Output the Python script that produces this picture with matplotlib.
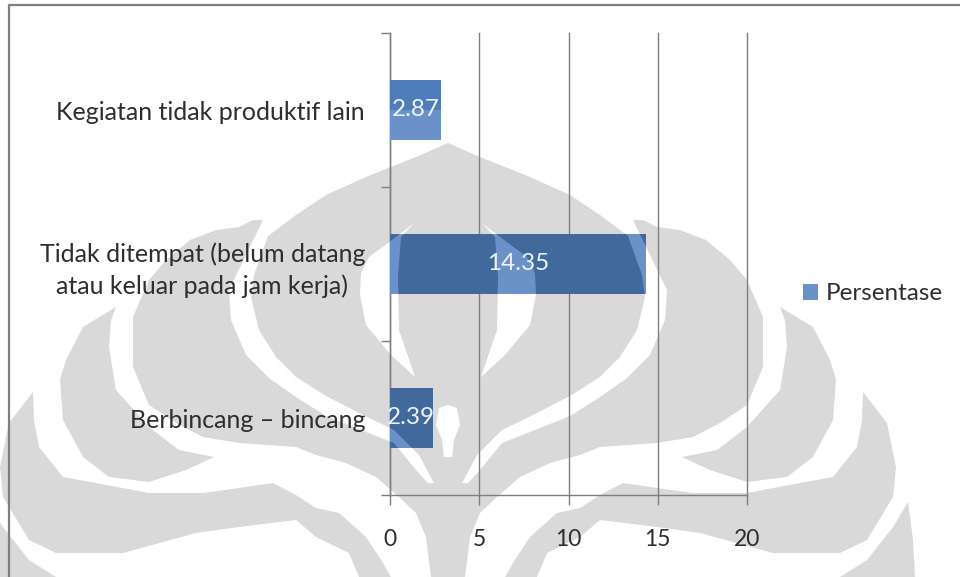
#!/usr/bin/env python
"""Horizontal bar chart of unproductive activity shares, over the grey emblem watermark."""

import matplotlib

matplotlib.use("Agg")
import matplotlib.pyplot as plt  # noqa: E402
from matplotlib.lines import Line2D  # noqa: E402
from matplotlib.patches import Polygon, Rectangle  # noqa: E402

W, H = 960, 577

categories = ["Berbincang \u2013 bincang",
              "Tidak ditempat (belum datang\natau keluar pada jam kerja)",
              "Kegiatan tidak produktif lain"]
values = [2.39, 14.35, 2.87]
value_labels = ["2.39", "14.35", "2.87"]
x_ticks = [0, 5, 10, 15, 20]
series_name = "Persentase"

BAR = "#6a92c8"
BAR_DARK = "#41699c"
BAR_BAND = "#4e7db9"
MARK = "#d9d9d9"
INK = "#2e2e2e"
LINE = "#7f7f7f"

# watermark outline, right half in image pixels, mirrored about x = 448
AXIS = 448
DOME = [(448, 143), (480, 157), (530, 177), (570, 195), (600, 215), (628, 236), (642, 275),
        (645, 297), (637, 330), (620, 357), (600, 377), (570, 396), (533, 415), (502, 430),
        (477, 455), (462, 483), (448, 483)]
WING = [(633, 220), (643, 220), (657, 227), (680, 230), (706, 240), (730, 260), (747, 280),
        (763, 317), (763, 367), (747, 405), (720, 423), (693, 437), (657, 443), (600, 447),
        (580, 455), (550, 463), (520, 477), (497, 497), (480, 513), (470, 537), (465, 577),
        (448, 577), (448, 483), (468, 483), (480, 470), (502, 443), (535, 430), (570, 416),
        (600, 397), (627, 378), (650, 355), (665, 320), (667, 290)]
LOBE_A = [(780, 307), (813, 327), (830, 360), (836, 380), (833, 420), (813, 457), (787, 477),
          (747, 482), (710, 470), (682, 457), (717, 450), (747, 427), (780, 390), (787, 347),
          (785, 320)]
LOBE_B = [(863, 392), (887, 423), (896, 467), (893, 497), (867, 540), (840, 553), (773, 553),
          (700, 533), (657, 527), (600, 520), (580, 537), (547, 553), (537, 577), (505, 577),
          (513, 563), (530, 537), (557, 513), (580, 508), (600, 495), (623, 483), (657, 488),
          (693, 493), (747, 493), (800, 483), (833, 477), (857, 447), (862, 420)]
LOBE_C = [(908, 502), (913, 540), (915, 577), (840, 577), (867, 560), (893, 527)]
CRESCENT = [(482, 223), (500, 237), (527, 257), (535, 273), (536, 295), (530, 325), (505, 355),
            (481, 377), (497, 330), (498, 277), (495, 237)]
TEARDROP = [(448, 405), (457, 408), (460, 425), (454, 440), (452, 457), (448, 457)]


def mirror(pts):
    return [(2 * AXIS - x, y) for x, y in pts]


fig = plt.figure(figsize=(W / 100, H / 100), dpi=100, facecolor="white")
plt.rcParams["font.family"] = ["Lato", "DejaVu Sans"]

# background layer in pixel coordinates
bg = fig.add_axes([0, 0, 1, 1], zorder=0)
bg.set_xlim(0, W)
bg.set_ylim(H, 0)
bg.axis("off")
gray_shapes = [DOME, WING, LOBE_A, LOBE_B, LOBE_C]
white_shapes = [CRESCENT, TEARDROP]
for pts in gray_shapes:
    for shape in (pts, mirror(pts)):
        bg.add_patch(Polygon(shape, closed=True, fc=MARK, ec="none"))
for pts in white_shapes:
    for shape in (pts, mirror(pts)):
        bg.add_patch(Polygon(shape, closed=True, fc="white", ec="none"))
bg.add_line(Line2D([9, 9, W], [H, 5, 5], color=LINE, lw=1.6))

# plot area: x 0..20 spans 390..747 px, y spans 33..495 px
ax = fig.add_axes([390 / W, 1 - 495 / H, 357 / W, 462 / H], zorder=1)
ax.patch.set_visible(False)
ys = list(range(len(values)))
bars = ax.barh(ys, values, height=0.395, color=BAR, edgecolor="none", zorder=3, label=series_name)

# emblem darkens the bars where they overlap it
for bar in bars:
    for pts in gray_shapes:
        for shape in (pts, mirror(pts)):
            p = Polygon(shape, closed=True, fc=BAR_DARK, ec="none", transform=bg.transData, zorder=3.1)
            ax.add_patch(p)
            p.set_clip_path(bar)
    for pts in white_shapes:
        for shape in (pts, mirror(pts)):
            p = Polygon(shape, closed=True, fc=BAR, ec="none", transform=bg.transData, zorder=3.2)
            ax.add_patch(p)
            p.set_clip_path(bar)

# darker scan band across the upper part of the top bar
band = Rectangle((380, 70), 80, 40, fc=BAR_BAND, ec="none", transform=bg.transData, zorder=3.3)
ax.add_patch(band)
band.set_clip_path(bars[2])

for y, v, s in zip(ys, values, value_labels):
    ax.text(v / 2, y, s, color="#eef2f7", fontsize=17.5, ha="center", va="center", zorder=4)

ax.set_xlim(0, 20)
ax.set_ylim(-0.5, 2.5)
ax.set_xticks(x_ticks)
ax.set_yticks([-0.5, 0.5, 1.5, 2.5])
ax.set_yticklabels([])
ax.set_yticks(ys, minor=True)
ax.set_yticklabels(categories, minor=True, fontsize=18, color=INK)
for lab in ax.get_yticklabels(minor=True):
    lab.set_multialignment("center")
    lab.set_linespacing(1.45)
ax.tick_params(axis="y", which="minor", length=0, pad=18)
ax.tick_params(axis="y", which="major", length=6.5, width=1, color=LINE)
ax.tick_params(axis="x", length=7.5, width=1, color=LINE, pad=17, labelsize=16.5, labelcolor=INK)
ax.grid(axis="x", color=LINE, lw=1, zorder=1)
for gl in ax.get_xgridlines():
    gl.set_clip_on(False)
ax.set_axisbelow(True)
for s in ("top", "right"):
    ax.spines[s].set_visible(False)
for s in ("left", "bottom"):
    ax.spines[s].set_color(LINE)
    ax.spines[s].set_linewidth(1)

fig.legend(handles=[bars], loc="center left", bbox_to_anchor=(803 / W, 1 - 294 / H), frameon=False,
           fontsize=17.5, labelcolor=INK, handlelength=0.62, handleheight=0.62, handletextpad=0.3,
           borderpad=0, borderaxespad=0)

fig.savefig("out.png", dpi=100, facecolor="white")
